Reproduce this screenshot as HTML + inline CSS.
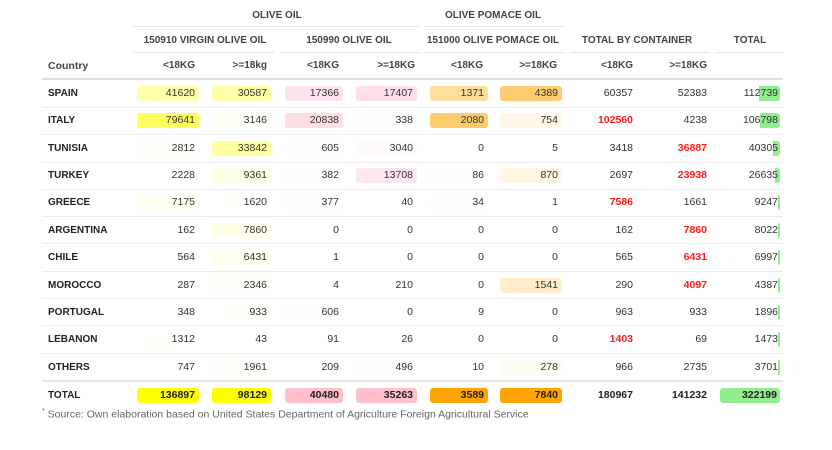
<!DOCTYPE html>
<html><head><meta charset="utf-8"><style>
body{margin:0;width:832px;height:450px;background:#fff;font-family:"Liberation Sans",sans-serif;position:relative;overflow:hidden;color:#333}
.h{position:absolute;font-size:10px;font-weight:bold;color:#444;text-align:center;white-space:nowrap}
.ln{position:absolute;height:1px;background:#e4e4e4}
.row{position:absolute;left:42px;width:739px;height:27px;font-size:10.5px}
.row .c{position:absolute;left:6px;top:8px;font-weight:bold;font-size:10px;color:#222}
.b{position:absolute;top:6px;height:15px;line-height:15px;border-radius:3px;text-align:right;padding-right:4px;box-sizing:border-box}
.c1{left:95px;width:62px}.c2{left:170px;width:59px}.c3{left:243px;width:58px}.c4{left:314px;width:61px}.c5{left:388px;width:58px}.c6{left:458px;width:62px}
.t{position:absolute;top:6px;height:15px;line-height:15px;text-align:right}
.c7{right:148px}.c8{right:74px}.c9{right:3px;z-index:2}
.g{position:absolute;right:1px;top:6px;height:15px;background:#90ee90;border-radius:0 3px 3px 0}
.r{color:#ff1a1a;font-weight:bold}
.sep{position:absolute;left:42px;width:741px;height:1px;background:#ececec}
</style></head><body>
<div class="h" style="left:133px;width:288px;top:10px">OLIVE OIL</div>
<div class="h" style="left:421px;width:144px;top:10px">OLIVE POMACE OIL</div>
<div class="ln" style="left:133px;width:286px;top:26px"></div>
<div class="ln" style="left:425px;width:140px;top:26px"></div>
<div class="h" style="left:133px;width:144px;top:35px">150910 VIRGIN OLIVE OIL</div>
<div class="h" style="left:277px;width:144px;top:35px">150990 OLIVE OIL</div>
<div class="h" style="left:421px;width:144px;top:35px">151000 OLIVE POMACE OIL</div>
<div class="h" style="left:565px;width:144px;top:35px">TOTAL BY CONTAINER</div>
<div class="h" style="left:709px;width:82px;top:35px">TOTAL</div>
<div class="ln" style="left:133px;width:141px;top:52px"></div>
<div class="ln" style="left:280px;width:141px;top:52px"></div>
<div class="ln" style="left:425px;width:140px;top:52px"></div>
<div class="ln" style="left:570px;width:140px;top:52px"></div>
<div class="ln" style="left:716px;width:68px;top:52px"></div>
<div class="h" style="left:48px;top:60px;font-size:10.5px">Country</div>
<div class="h" style="left:150px;width:45px;top:60px;text-align:right">&lt;18KG</div>
<div class="h" style="left:222px;width:45px;top:60px;text-align:right">&gt;=18kg</div>
<div class="h" style="left:294px;width:45px;top:60px;text-align:right">&lt;18KG</div>
<div class="h" style="left:366px;width:49px;top:60px;text-align:right">&gt;=18KG</div>
<div class="h" style="left:438px;width:45px;top:60px;text-align:right">&lt;18KG</div>
<div class="h" style="left:508px;width:49px;top:60px;text-align:right">&gt;=18KG</div>
<div class="h" style="left:588px;width:45px;top:60px;text-align:right">&lt;18KG</div>
<div class="h" style="left:658px;width:49px;top:60px;text-align:right">&gt;=18KG</div>
<div style="position:absolute;left:42px;width:741px;top:78px;height:2px;background:#e0e0e0"></div>

<div class="row" style="top:80px"><span class="c">SPAIN</span>
<span class="b c1" style="background:rgba(255,255,0,.33)">41620</span><span class="b c2" style="background:rgba(255,255,0,.34)">30587</span><span class="b c3" style="background:rgba(255,192,203,.43)">17366</span><span class="b c4" style="background:rgba(255,192,203,.49)">17407</span><span class="b c5" style="background:rgba(255,165,0,.38)">1371</span><span class="b c6" style="background:rgba(255,165,0,.56)">4389</span><span class="t c7">60357</span><span class="t c8">52383</span><span class="g" style="width:21px"></span><span class="t c9">112739</span></div>
<div class="sep" style="top:107px"></div>
<div class="row" style="top:107px"><span class="c">ITALY</span>
<span class="b c1" style="background:rgba(255,255,0,.64)">79641</span><span class="b c2" style="background:rgba(255,255,0,.035)">3146</span><span class="b c3" style="background:rgba(255,192,203,.51)">20838</span><span class="b c4" style="background:rgba(255,192,203,.01)">338</span><span class="b c5" style="background:rgba(255,165,0,.58)">2080</span><span class="b c6" style="background:rgba(255,165,0,.1)">754</span><span class="t c7 r">102560</span><span class="t c8">4238</span><span class="g" style="width:20px"></span><span class="t c9">106798</span></div>
<div class="sep" style="top:134px"></div>
<div class="row" style="top:134.5px"><span class="c">TUNISIA</span>
<span class="b c1" style="background:rgba(255,255,0,.02)">2812</span><span class="b c2" style="background:rgba(255,255,0,.38)">33842</span><span class="b c3" style="background:rgba(255,192,203,.015)">605</span><span class="b c4" style="background:rgba(255,192,203,.086)">3040</span><span class="b c5">0</span><span class="b c6">5</span><span class="t c7">3418</span><span class="t c8 r">36887</span><span class="g" style="width:7.5px"></span><span class="t c9">40305</span></div>
<div class="sep" style="top:161.5px"></div>
<div class="row" style="top:162px"><span class="c">TURKEY</span>
<span class="b c1" style="background:rgba(255,255,0,.016)">2228</span><span class="b c2" style="background:rgba(255,255,0,.1)">9361</span><span class="b c3" style="background:rgba(255,192,203,.01)">382</span><span class="b c4" style="background:rgba(255,192,203,.39)">13708</span><span class="b c5" style="background:rgba(255,165,0,.024)">86</span><span class="b c6" style="background:rgba(255,165,0,.11)">870</span><span class="t c7">2697</span><span class="t c8 r">23938</span><span class="g" style="width:5px"></span><span class="t c9">26635</span></div>
<div class="sep" style="top:189px"></div>
<div class="row" style="top:189px"><span class="c">GREECE</span>
<span class="b c1" style="background:rgba(255,255,0,.06)">7175</span><span class="b c2" style="background:rgba(255,255,0,.017)">1620</span><span class="b c3" style="background:rgba(255,192,203,.01)">377</span><span class="b c4">40</span><span class="b c5" style="background:rgba(255,165,0,.01)">34</span><span class="b c6">1</span><span class="t c7 r">7586</span><span class="t c8">1661</span><span class="g" style="width:2px"></span><span class="t c9">9247</span></div>
<div class="sep" style="top:216px"></div>
<div class="row" style="top:216.5px"><span class="c">ARGENTINA</span>
<span class="b c1">162</span><span class="b c2" style="background:rgba(255,255,0,.09)">7860</span><span class="b c3">0</span><span class="b c4">0</span><span class="b c5">0</span><span class="b c6">0</span><span class="t c7">162</span><span class="t c8 r">7860</span><span class="g" style="width:2px"></span><span class="t c9">8022</span></div>
<div class="sep" style="top:243px"></div>
<div class="row" style="top:244px"><span class="c">CHILE</span>
<span class="b c1">564</span><span class="b c2" style="background:rgba(255,255,0,.07)">6431</span><span class="b c3">1</span><span class="b c4">0</span><span class="b c5">0</span><span class="b c6">0</span><span class="t c7">565</span><span class="t c8 r">6431</span><span class="g" style="width:2px"></span><span class="t c9">6997</span></div>
<div class="sep" style="top:271px"></div>
<div class="row" style="top:271.5px"><span class="c">MOROCCO</span>
<span class="b c1">287</span><span class="b c2" style="background:rgba(255,255,0,.024)">2346</span><span class="b c3">4</span><span class="b c4">210</span><span class="b c5">0</span><span class="b c6" style="background:rgba(255,165,0,.2)">1541</span><span class="t c7">290</span><span class="t c8 r">4097</span><span class="g" style="width:2px"></span><span class="t c9">4387</span></div>
<div class="sep" style="top:298px"></div>
<div class="row" style="top:298.5px"><span class="c">PORTUGAL</span>
<span class="b c1">348</span><span class="b c2" style="background:rgba(255,255,0,.01)">933</span><span class="b c3" style="background:rgba(255,192,203,.015)">606</span><span class="b c4">0</span><span class="b c5">9</span><span class="b c6">0</span><span class="t c7">963</span><span class="t c8">933</span><span class="g" style="width:2px"></span><span class="t c9">1896</span></div>
<div class="sep" style="top:325px"></div>
<div class="row" style="top:326px"><span class="c">LEBANON</span>
<span class="b c1" style="background:rgba(255,255,0,.01)">1312</span><span class="b c2">43</span><span class="b c3">91</span><span class="b c4">26</span><span class="b c5">0</span><span class="b c6">0</span><span class="t c7 r">1403</span><span class="t c8">69</span><span class="g" style="width:2px"></span><span class="t c9">1473</span></div>
<div class="sep" style="top:353px"></div>
<div class="row" style="top:353.5px"><span class="c">OTHERS</span>
<span class="b c1">747</span><span class="b c2" style="background:rgba(255,255,0,.02)">1961</span><span class="b c3">209</span><span class="b c4" style="background:rgba(255,192,203,.014)">496</span><span class="b c5">10</span><span class="b c6" style="background:rgba(255,165,0,.035)">278</span><span class="t c7">966</span><span class="t c8">2735</span><span class="g" style="width:2px"></span><span class="t c9">3701</span></div>
<div style="position:absolute;left:42px;width:741px;top:380px;height:2px;background:#e6e6e6"></div>
<div class="row" style="top:382px;font-weight:bold;color:#222"><span class="c">TOTAL</span>
<span class="b c1" style="background:#ffff00">136897</span><span class="b c2" style="background:#ffff00">98129</span><span class="b c3" style="background:#ffc0cb">40480</span><span class="b c4" style="background:#ffc0cb">35263</span><span class="b c5" style="background:#ffa500">3589</span><span class="b c6" style="background:#ffa500">7840</span><span class="t c7">180967</span><span class="t c8">141232</span><span class="b" style="left:678px;width:60px;background:#90ee90;padding-right:3px">322199</span></div>
<div style="position:absolute;left:42px;top:408px;font-size:10.5px;color:#666"><sup style="font-size:7px">*</sup> Source: Own elaboration based on United States Department of Agriculture Foreign Agricultural Service</div>
</body></html>
